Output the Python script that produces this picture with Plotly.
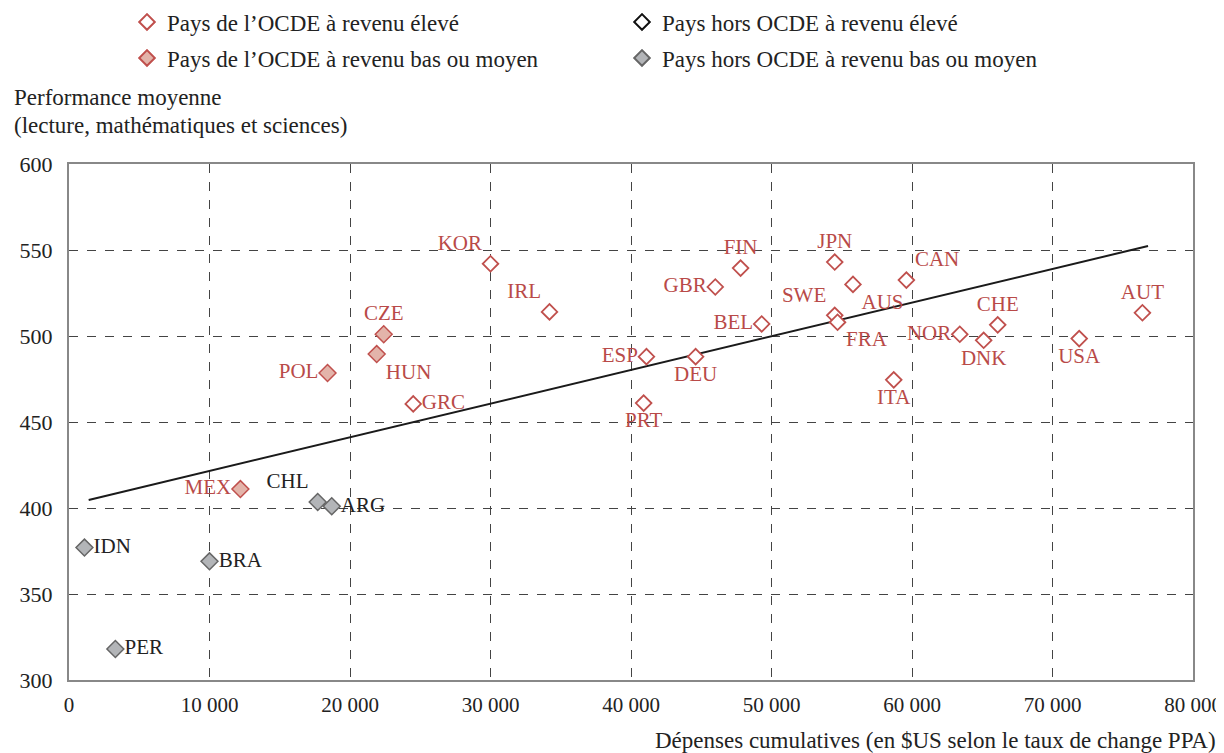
import plotly.graph_objects as go

# ---- data ----
oecd_high_codes = ["KOR", "IRL", "GRC", "FIN", "GBR", "JPN", "AUS", "CAN", "SWE", "FRA", "BEL",
                   "ESP", "DEU", "PRT", "ITA", "NOR", "DNK", "CHE", "USA", "AUT"]
oecd_high_x = [30000, 34200, 24500, 47800, 46000, 54500, 55800, 59600, 54500, 54700, 49300,
               41100, 44600, 40900, 58700, 63400, 65100, 66100, 71900, 76400]
oecd_high_y = [542, 514, 460.5, 539.5, 528.5, 543, 530, 532.5, 512, 508, 507,
               488, 488, 461, 474.5, 501, 497.5, 506.5, 498.5, 513.5]
oecd_high_pos = ["top left", "top left", "middle right", "top center", "middle left", "top center",
                 "bottom right", "top right", "top left", "bottom right", "middle left",
                 "middle left", "bottom center", "bottom center", "bottom center", "middle left",
                 "bottom center", "top center", "bottom center", "top center"]

oecd_low_codes = ["CZE", "HUN", "POL", "MEX"]
oecd_low_x = [22400, 21900, 18400, 12200]
oecd_low_y = [501, 489.5, 478.5, 411]
oecd_low_pos = ["top center", "bottom right", "middle left", "middle left"]

nonoecd_low_codes = ["CHL", "ARG", "IDN", "BRA", "PER"]
nonoecd_low_x = [17700, 18700, 1100, 10000, 3300]
nonoecd_low_y = [403.5, 401, 377, 369, 318]
nonoecd_low_pos = ["top left", "middle right", "middle right", "middle right", "middle right"]

trend_x = [1400, 76800]
trend_y = [404.7, 552.3]

legend_names = ["Pays de l\u2019OCDE à revenu élevé", "Pays hors OCDE à revenu élevé",
                "Pays de l\u2019OCDE à revenu bas ou moyen", "Pays hors OCDE à revenu bas ou moyen"]

x_title = "Dépenses cumulatives (en $US selon le taux de change PPA)"
y_title_lines = ["Performance moyenne", "(lecture, mathématiques et sciences)"]

# ---- styles ----
RED = "#C0504D"
TXT_RED = "#B94A48"
FONT = "Liberation Serif"

# page body adds an 8px offset; figure is sized to fit the window
W, H = 1216, 745
ML, MT, MR, MB = 61, 156, 31, 73
PW, PH = W - ML - MR, H - MT - MB

fig = go.Figure()

fig.add_trace(go.Scatter(
    x=trend_x, y=trend_y, mode="lines", line=dict(color="#1a1a1a", width=2),
    showlegend=False, hoverinfo="skip"))

fig.add_trace(go.Scatter(
    x=oecd_high_x, y=oecd_high_y, mode="markers+text", name=legend_names[0], legend="legend",
    text=oecd_high_codes, textposition=oecd_high_pos,
    textfont=dict(family=FONT, size=21, color=TXT_RED),
    marker=dict(symbol="diamond", size=12, color="white", line=dict(color=RED, width=1.8))))

fig.add_trace(go.Scatter(
    x=[None], y=[None], mode="markers", name=legend_names[1], legend="legend",
    marker=dict(symbol="diamond", size=12, color="white", line=dict(color="#111111", width=1.8))))

fig.add_trace(go.Scatter(
    x=oecd_low_x, y=oecd_low_y, mode="markers+text", name=legend_names[2], legend="legend2",
    text=oecd_low_codes, textposition=oecd_low_pos,
    textfont=dict(family=FONT, size=21, color=TXT_RED),
    marker=dict(symbol="diamond", size=13, color="#E3B4AA", line=dict(color=RED, width=1.5))))

fig.add_trace(go.Scatter(
    x=nonoecd_low_x, y=nonoecd_low_y, mode="markers+text", name=legend_names[3], legend="legend2",
    text=nonoecd_low_codes, textposition=nonoecd_low_pos,
    textfont=dict(family=FONT, size=21, color="#222222"),
    marker=dict(symbol="diamond", size=13, color="#B3B5B8", line=dict(color="#666666", width=1.5))))

leg_common = dict(orientation="h", xanchor="left", yanchor="middle", yref="container",
                  entrywidth=450, entrywidthmode="pixels", traceorder="normal",
                  font=dict(family=FONT, size=23, color="#222222"),
                  itemsizing="constant", bgcolor="rgba(0,0,0,0)")

fig.update_layout(
    width=W, height=H,
    paper_bgcolor="white", plot_bgcolor="white",
    margin=dict(l=ML, r=MR, t=MT, b=MB, autoexpand=False),
    font=dict(family=FONT, size=21, color="#222222"),
    separators=". ",
    showlegend=True,
    legend=dict(x=58 / PW, y=1 - 14 / H, **leg_common),
    legend2=dict(x=58 / PW, y=1 - 50 / H, **leg_common),
    xaxis=dict(range=[0, 80000], dtick=10000, tickformat=",d",
               showgrid=True, gridcolor="#444444", griddash="dash", gridwidth=1,
               showline=True, linecolor="#888888", linewidth=2, mirror=True,
               zeroline=False, ticks="", tickfont=dict(size=21), ticklabelstandoff=5),
    yaxis=dict(range=[300, 600], dtick=50,
               showgrid=True, gridcolor="#444444", griddash="dash", gridwidth=1,
               showline=True, linecolor="#888888", linewidth=2, mirror=True,
               zeroline=False, ticks="", tickfont=dict(size=22), ticklabelstandoff=10),
    annotations=[
        dict(text=y_title_lines[0], xref="paper", yref="paper",
             x=-(ML - 4) / PW, y=1 + (MT - 89) / PH, xanchor="left", yanchor="middle", align="left",
             showarrow=False, font=dict(family=FONT, size=23, color="#222222")),
        dict(text=y_title_lines[1], xref="paper", yref="paper",
             x=-(ML - 4) / PW, y=1 + (MT - 117) / PH, xanchor="left", yanchor="middle", align="left",
             showarrow=False, font=dict(family=FONT, size=23, color="#222222")),
        dict(text=x_title, xref="paper", yref="paper",
             x=(1210 - ML) / PW, y=-(732 - (H - MB)) / PH, xanchor="right", yanchor="middle",
             showarrow=False, font=dict(family=FONT, size=23, color="#222222")),
    ],
)

fig.write_html("out.html")
